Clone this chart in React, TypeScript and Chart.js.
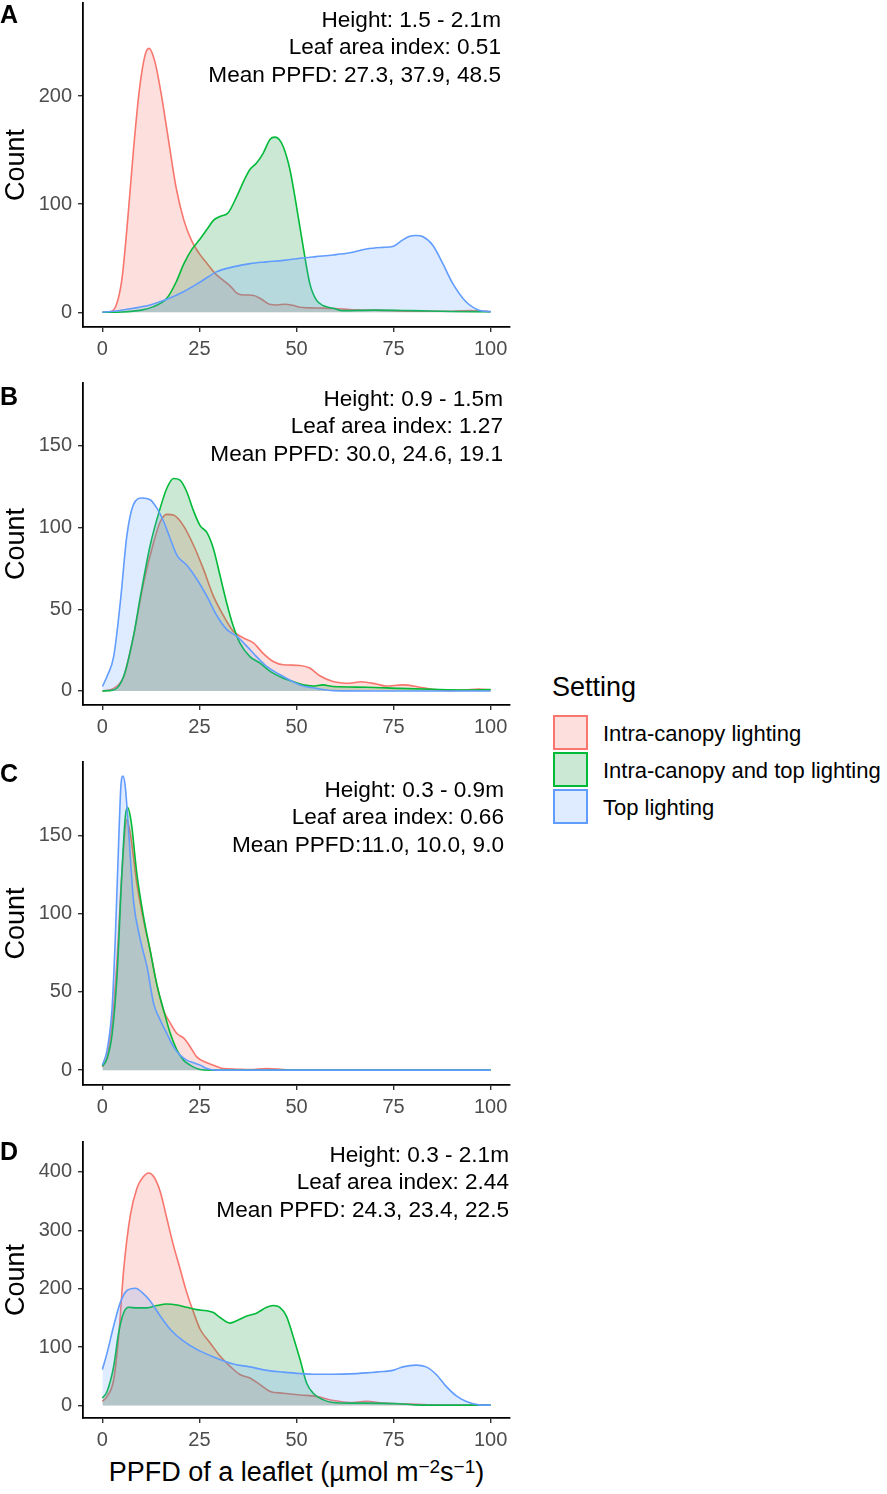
import { useEffect, useRef } from "react";
import { Chart, registerables } from "chart.js";

Chart.register(...registerables);

const FONT = '"Liberation Sans", Arial, Helvetica, sans-serif';
Chart.defaults.font.family = FONT;

const settings = [
  "Intra-canopy lighting",
  "Intra-canopy and top lighting",
  "Top lighting",
];
const lineColors = ["#F8766D", "#00BA38", "#619CFF"];
const fillColors = [
  "rgba(248,118,109,0.23)",
  "rgba(20,150,60,0.22)",
  "rgba(97,156,255,0.2)",
];

const xTicks = [0, 25, 50, 75, 100];

// panel A: 1.5 - 2.1m
const redA: [number, number][] = [
  [0, 0], [2, 0.5], [3.5, 6], [5, 30], [6.5, 85], [8, 150], [9.5, 205], [11, 238],
  [12, 244], [13.5, 232], [15, 205], [17, 160], [19, 115], [21, 85], [23, 66],
  [25, 54], [27, 45], [29, 36], [31, 30], [33, 24], [35, 17], [37, 16], [39, 15.5],
  [41, 12], [43, 7.5], [45, 6.8], [47, 7.5], [49, 6.5], [51, 4.6], [55, 4], [60, 3.5],
  [65, 2.2], [70, 2], [75, 1.5], [80, 1], [85, 1], [90, 1], [95, 1.6], [100, 0.5],
];
const greenA: [number, number][] = [
  [0, 0], [5, 0.3], [10, 2], [13, 5], [16.6, 13], [19, 28], [21, 45], [23, 58],
  [25.2, 68], [27, 77], [28.6, 85], [30.3, 88.6], [32.4, 92], [34.6, 107], [36.5, 122],
  [38, 132], [39.7, 138], [41.4, 147], [43.2, 160], [44.4, 162], [45.5, 160], [46.6, 153],
  [48.3, 132], [50, 98], [51.7, 61], [53.4, 27], [55.1, 11.4], [57, 6], [59.4, 3.7],
  [62, 1.5], [70, 2], [80, 1.5], [90, 0.8], [100, 0.5],
];
const blueA: [number, number][] = [
  [0, 0], [4, 1.5], [8, 3.7], [12.3, 6.8], [16.6, 12], [20.9, 19], [25.2, 28],
  [29.5, 37.6], [33.7, 42], [38, 45], [42.3, 46.6], [46.6, 48], [50.9, 50], [55, 51.5],
  [59.4, 53], [63.7, 55], [68, 58.6], [72.3, 60], [74.8, 60.8], [77.4, 67], [79, 70],
  [80.8, 71], [82.5, 70], [85.1, 62], [87.7, 45], [90.2, 27], [93.6, 10], [97, 2], [100, 0.6],
];

// panel B: 0.9 - 1.5m
const redB: [number, number][] = [
  [0, 0], [2.9, 1.6], [5.5, 9], [8, 33.5], [10.6, 66], [13.2, 91], [14.9, 103.5],
  [16.6, 108], [18.3, 107.6], [20.9, 101], [23.5, 89], [26, 74.7], [28.6, 58], [31.2, 46],
  [33.7, 36.6], [36.3, 32.5], [38.9, 29.4], [41.4, 23], [44, 18], [46.6, 16], [50.9, 15.6],
  [53.4, 14], [56, 9.3], [59.4, 5.8], [63.7, 4.7], [66.5, 5.6], [70.5, 4.3], [73, 3],
  [77.4, 3.7], [81.7, 2.3], [85, 1], [89.4, 0.2], [93.6, 0.6], [97, 1.2], [100, 0.6],
];
const greenB: [number, number][] = [
  [0, 0], [2.9, 0.6], [5.5, 9], [8, 33.5], [9.8, 58], [12.3, 89], [14.9, 112], [16.6, 124],
  [18.3, 130], [20, 129], [21.7, 122], [23.5, 110], [25.2, 101], [26.9, 97], [28.6, 87],
  [30.3, 70.6], [32, 54], [33.7, 39.7], [35.4, 29.4], [38, 21], [40.6, 17], [43.2, 12],
  [46.6, 7.8], [49.1, 5.8], [51.7, 3.7], [54.3, 3], [56.8, 3.7], [59.4, 2.7], [68, 2.3],
  [76.5, 1.6], [85, 1], [93.6, 0.6], [100, 0.8],
];
const blueB: [number, number][] = [
  [0, 2.7], [1.2, 9], [2.9, 21], [4.6, 54], [6.3, 95], [8, 114], [10.2, 118], [12.3, 117],
  [14, 112], [15.8, 103.5], [17.5, 93], [19.2, 83], [21.7, 77], [24.3, 68.5], [26.9, 58],
  [29.5, 46], [32, 37.7], [34.6, 33.5], [37.2, 27.4], [39.7, 21], [42.3, 15], [46.6, 8.8],
  [50.9, 3.7], [55, 1.6], [59.4, 0.2], [70, 0], [85, 0], [100, 0],
];

// panel C: 0.3 - 0.9m
const redC: [number, number][] = [
  [0, 2], [1.2, 8.5], [2.5, 30], [3.8, 72], [5, 125.5], [6.3, 160], [7.2, 151], [8.9, 119],
  [10.6, 95.7], [12.3, 76.6], [14, 55], [15.8, 38], [17.5, 30], [19.2, 23.4], [20.9, 20.6],
  [22.6, 15], [24.3, 8.5], [26.9, 4.7], [28.6, 3.2], [31.2, 1], [34.6, 0.6], [38, 0.3],
  [42.3, 1], [46.6, 0.4], [50, 0], [75, 0], [100, 0],
];
const greenC: [number, number][] = [
  [0, 2.5], [1.2, 7.4], [2.5, 23], [3.8, 62], [5, 125], [5.9, 162], [6.5, 168], [7.4, 159],
  [8.9, 125], [10.6, 98], [12.3, 76.6], [14, 55], [15.8, 38], [17.5, 23.4], [19.2, 12.8],
  [20.9, 6.4], [22.6, 3.2], [25.2, 0.4], [28, 0], [50, 0], [75, 0], [100, 0],
];
const blueC: [number, number][] = [
  [0, 3.2], [1.2, 12.8], [2.5, 40], [3.3, 83], [4.2, 147], [4.8, 183], [5.3, 188],
  [5.9, 181], [6.8, 151], [8, 108.5], [9.8, 83], [11.5, 66], [13.2, 42.5], [14.9, 32],
  [16.6, 23.4], [18.3, 15], [20, 9.6], [21.7, 6.4], [23.5, 4.7], [25.2, 3.2], [26.9, 1],
  [29.5, 0], [50, 0], [75, 0], [100, 0],
];

// panel D: 0.3 - 2.1m
const redD: [number, number][] = [
  [0, 7], [1.2, 15.5], [2.9, 44], [4.2, 119], [5.5, 234], [7.2, 326], [8.9, 372],
  [10.6, 392], [11.9, 398], [13.2, 392], [14.9, 366], [16.6, 320], [18.3, 274], [20, 234],
  [21.7, 194], [23.5, 159], [25.2, 130], [27.7, 107.5], [30.3, 84.5], [32.9, 67],
  [35.4, 53], [38, 47], [40.6, 35.6], [43.2, 24], [46.6, 21], [50.9, 18], [55.1, 15.5],
  [59.4, 8.6], [63.7, 5], [68, 7], [72.3, 4], [76.5, 3], [85, 1], [93.6, 0.6], [100, 0.5],
];
const greenD: [number, number][] = [
  [0, 12.6], [1.2, 24], [2.9, 67], [4.2, 125], [5.5, 159], [6.8, 168], [8.9, 167],
  [11.5, 167], [14, 171], [16.6, 173.6], [19.2, 172], [21.7, 168], [24.3, 164], [26.9, 162],
  [28.6, 159], [30.3, 150.6], [32.9, 141], [34.6, 145], [37.2, 153], [39.7, 158],
  [42.3, 168], [44, 171], [45.7, 168], [47.4, 153], [49.1, 119], [50.9, 79], [52.6, 38.5],
  [54.3, 21], [56.8, 10], [59.4, 5], [63.7, 4], [68, 4], [76.5, 3], [80.8, 1], [85.1, 0.6],
  [100, 0.5],
];
const blueD: [number, number][] = [
  [0, 61.5], [1.2, 90], [2.9, 136], [4.6, 176], [6.3, 196.5], [8.5, 200.6], [10.2, 193.7],
  [12.3, 179], [14.9, 153], [17.5, 130], [20.9, 110], [24.3, 96], [28.6, 83], [33.7, 71],
  [38, 66], [42.3, 60], [46.6, 57], [50.9, 54.6], [55.1, 53.4], [59.4, 53.4], [63.7, 54],
  [68, 55.7], [72.3, 58], [74.8, 60], [77.4, 66], [80.8, 69], [83.4, 66], [86, 53],
  [88.5, 33], [91.1, 16.7], [93.6, 7], [97, 1], [100, 0.5],
];

const notesA = ["Height: 1.5 - 2.1m", "Leaf area index: 0.51", "Mean PPFD: 27.3, 37.9, 48.5"];
const notesB = ["Height: 0.9 - 1.5m", "Leaf area index: 1.27", "Mean PPFD: 30.0, 24.6, 19.1"];
const notesC = ["Height: 0.3 - 0.9m", "Leaf area index: 0.66", "Mean PPFD:11.0, 10.0, 9.0"];
const notesD = ["Height: 0.3 - 2.1m", "Leaf area index: 2.44", "Mean PPFD: 24.3, 23.4, 22.5"];

const yTicksA = [0, 100, 200];
const yTicksB = [0, 50, 100, 150];
const yTicksC = [0, 50, 100, 150];
const yTicksD = [0, 100, 200, 300, 400];

type PanelDef = {
  letter: string;
  series: [number, number][][];
  notes: string[];
  yTicks: number[];
  yMin: number;
  yMax: number;
  chartTop: number;
  chartBottom: number;
  letterBase: number;
  noteRight: number;
  noteBase: number;
};

const panels: PanelDef[] = [
  { letter: "A", series: [redA, greenA, blueA], notes: notesA, yTicks: yTicksA, yMin: -13.6, yMax: 286,
    chartTop: 3, chartBottom: 327, letterBase: 23, noteRight: 501, noteBase: 26.7 },
  { letter: "B", series: [redB, greenB, blueB], notes: notesB, yTicks: yTicksB, yMin: -8.6, yMax: 188.4,
    chartTop: 383, chartBottom: 705, letterBase: 405, noteRight: 503, noteBase: 406 },
  { letter: "C", series: [redC, greenC, blueC], notes: notesC, yTicks: yTicksC, yMin: -9.5, yMax: 197,
    chartTop: 762, chartBottom: 1085, letterBase: 782, noteRight: 504, noteBase: 796.7 },
  { letter: "D", series: [redD, greenD, blueD], notes: notesD, yTicks: yTicksD, yMin: -21.5, yMax: 451,
    chartTop: 1142, chartBottom: 1418, letterBase: 1160, noteRight: 509, noteBase: 1161.7 },
];

const X_AXIS_H = 35;
const PAD_TOP = 3;

const Panel = ({ p }: { p: PanelDef }) => {
  const canvasRef = useRef<HTMLCanvasElement | null>(null);
  const wrapTop = p.chartTop - PAD_TOP;
  const height = p.chartBottom - wrapTop + X_AXIS_H;

  useEffect(() => {
    if (!canvasRef.current) return;

    const notePlugin = {
      id: "panelNotes",
      afterDraw(chart: Chart) {
        const ctx = chart.ctx;
        ctx.save();
        ctx.fillStyle = "#000000";
        ctx.textBaseline = "alphabetic";
        ctx.textAlign = "left";
        ctx.font = `bold 25px ${FONT}`;
        ctx.fillText(p.letter, 0, p.letterBase - wrapTop);
        ctx.textAlign = "right";
        ctx.font = `22.6px ${FONT}`;
        p.notes.forEach((t, i) => {
          ctx.fillText(t, p.noteRight, p.noteBase - wrapTop + i * 27.4);
        });
        ctx.restore();
      },
    };

    const chartInstance = new Chart(canvasRef.current, {
      type: "line",
      data: {
        datasets: p.series.map((pts, i) => ({
          label: settings[i],
          data: pts.map(([x, y]) => ({ x, y })),
          borderColor: lineColors[i],
          backgroundColor: fillColors[i],
          borderWidth: 1.6,
          pointRadius: 0,
          fill: "origin",
          cubicInterpolationMode: "monotone" as const,
          order: 3 - i,
        })),
      },
      options: {
        animation: false,
        responsive: true,
        maintainAspectRatio: false,
        layout: { padding: { top: PAD_TOP, right: 20, left: 0, bottom: 0 } },
        plugins: {
          legend: { display: false },
          tooltip: { enabled: false },
        },
        scales: {
          x: {
            type: "linear",
            min: -5,
            max: 105,
            afterBuildTicks: (scale: any) => {
              scale.ticks = xTicks.map((v) => ({ value: v }));
            },
            afterFit: (scale: any) => {
              scale.height = X_AXIS_H;
              scale.paddingLeft = 0;
              scale.paddingRight = 0;
            },
            ticks: {
              color: "#4D4D4D",
              font: { size: 20 },
              padding: 5,
              maxRotation: 0,
              autoSkip: false,
            },
            grid: {
              drawOnChartArea: false,
              drawTicks: true,
              tickLength: 5,
              color: "#333333",
              lineWidth: 1.4,
            },
            border: { display: true, color: "#000000", width: 1.8 },
          },
          y: {
            type: "linear",
            min: p.yMin,
            max: p.yMax,
            afterBuildTicks: (scale: any) => {
              scale.ticks = p.yTicks.map((v) => ({ value: v }));
            },
            afterFit: (scale: any) => {
              scale.width = 83;
              scale.paddingTop = 0;
              scale.paddingBottom = 0;
            },
            ticks: {
              color: "#4D4D4D",
              font: { size: 20 },
              padding: 6,
            },
            grid: {
              drawOnChartArea: false,
              drawTicks: true,
              tickLength: 5,
              color: "#333333",
              lineWidth: 1.4,
            },
            border: { display: true, color: "#000000", width: 1.8 },
            title: {
              display: true,
              text: "Count",
              color: "#000000",
              font: { size: 27 },
              padding: { top: 0, bottom: 0 },
            },
          },
        },
      },
      plugins: [notePlugin],
    });

    return () => {
      chartInstance.destroy();
    };
  }, [p]);

  return (
    <div style={{ position: "absolute", left: 0, top: wrapTop, width: 530, height }}>
      <canvas ref={canvasRef} />
    </div>
  );
};

const App = () => {
  return (
    <div
      style={{
        position: "absolute",
        left: 0,
        top: 0,
        width: 887,
        height: 1494,
        background: "#ffffff",
        fontFamily: FONT,
        color: "#000000",
      }}
    >
      {panels.map((p) => (
        <Panel key={p.letter} p={p} />
      ))}

      <div
        style={{
          position: "absolute",
          left: 0,
          top: 1456,
          width: 593,
          textAlign: "center",
          fontSize: 27,
          lineHeight: "32px",
          whiteSpace: "nowrap",
        }}
      >
        PPFD of a leaflet (µmol m
        <sup style={{ fontSize: 19, lineHeight: 0, verticalAlign: "0.42em" }}>−2</sup>
        s
        <sup style={{ fontSize: 19, lineHeight: 0, verticalAlign: "0.42em" }}>−1</sup>)
      </div>

      <div
        style={{
          position: "absolute",
          left: 552,
          top: 671,
          fontSize: 27,
          lineHeight: "32px",
          whiteSpace: "nowrap",
        }}
      >
        Setting
      </div>
      {settings.map((s, i) => (
        <div key={s}>
          <div
            style={{
              position: "absolute",
              left: 553,
              top: 715 + i * 37,
              width: 35,
              height: 35,
              boxSizing: "border-box",
              border: `2px solid ${lineColors[i]}`,
              background: fillColors[i],
            }}
          />
          <div
            style={{
              position: "absolute",
              left: 603,
              top: 721 + i * 37,
              fontSize: 22,
              lineHeight: "26px",
              whiteSpace: "nowrap",
            }}
          >
            {s}
          </div>
        </div>
      ))}
    </div>
  );
};

export default App;
